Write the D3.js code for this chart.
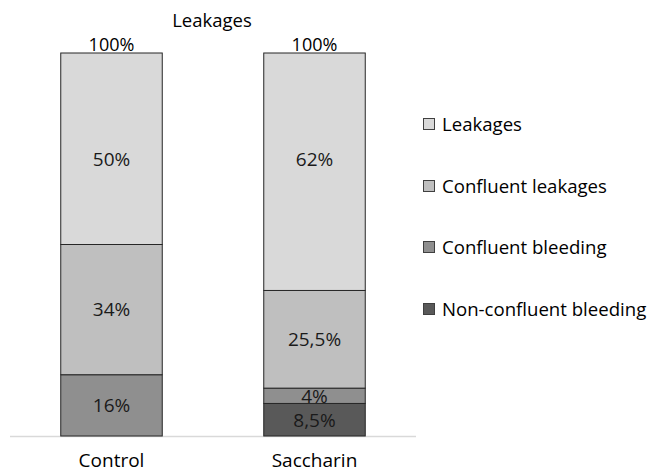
<!DOCTYPE html>
<html>
<head>
<meta charset="utf-8">
<script src="https://cdn.jsdelivr.net/npm/d3@7"></script>
<style>
  body { margin: 0; background: #fff; }
  text { font-family: "Open Sans", sans-serif; fill: #000; }
</style>
</head>
<body>
<div class="chart"></div>
<script>
// Data
const groups = ["Control", "Saccharin"];
const seriesNames = ["Non-confluent bleeding", "Confluent bleeding", "Confluent leakages", "Leakages"];
const nonConfluentBleeding = [0, 8.5];
const confluentBleeding = [16, 4];
const confluentLeakages = [34, 25.5];
const leakages = [50, 62];
const seriesColors = ["#595959", "#8f8f8f", "#bfbfbf", "#d9d9d9"];

const width = 650;
const height = 472;

const svg = d3.select(".chart")
    .append("svg")
    .attr("width", width)
    .attr("height", height);

// build rows for stacking
const rows = groups.map((g, i) => ({
    group: g,
    "Non-confluent bleeding": nonConfluentBleeding[i],
    "Confluent bleeding": confluentBleeding[i],
    "Confluent leakages": confluentLeakages[i],
    "Leakages": leakages[i]
}));

const stacked = d3.stack().keys(seriesNames)(rows);

const x = d3.scaleBand()
    .domain(groups)
    .range([10, 416])
    .paddingInner(0.5)
    .paddingOuter(0.25);

const y = d3.scaleLinear()
    .domain([0, 100])
    .range([436, 53]);

const color = d3.scaleOrdinal().domain(seriesNames).range(seriesColors);
const fmt = v => String(v).replace(".", ",") + "%";

// Title
svg.append("text")
    .attr("x", 212)
    .attr("y", 27)
    .attr("text-anchor", "middle")
    .style("font-size", "18.5px")
    .text("Leakages");

// baseline
svg.append("line")
    .attr("x1", x.range()[0])
    .attr("x2", x.range()[1])
    .attr("y1", y(0) + 0.5)
    .attr("y2", y(0) + 0.5)
    .attr("stroke", "#d9d9d9")
    .attr("stroke-width", 1.5);

// Bars
const layers = svg.append("g")
    .selectAll("g")
    .data(stacked)
    .join("g")
    .attr("fill", d => color(d.key));

layers.selectAll("rect")
    .data(d => d.filter(s => s[1] - s[0] > 0))
    .join("rect")
    .attr("x", d => x(d.data.group))
    .attr("y", d => y(d[1]))
    .attr("width", x.bandwidth())
    .attr("height", d => y(d[0]) - y(d[1]))
    .attr("stroke", "#262626")
    .attr("stroke-width", 1);

// Segment labels (top segment labels sit a little lower in the reference)
layers.selectAll("text")
    .data(d => d.filter(s => s[1] - s[0] > 0).map(s => Object.assign(s, { key: d.key })))
    .join("text")
    .attr("x", d => x(d.data.group) + x.bandwidth() / 2)
    .attr("y", d => d.key === "Leakages" ? y(d[1]) + 106 : (y(d[0]) + y(d[1])) / 2)
    .attr("dy", "0.36em")
    .attr("text-anchor", "middle")
    .style("font-size", "19px")
    .style("fill", "#1a1a1a")
    .text(d => fmt(d[1] - d[0]));

// Totals above bars
svg.append("g")
    .selectAll("text")
    .data(rows)
    .join("text")
    .attr("x", d => x(d.group) + x.bandwidth() / 2)
    .attr("y", d => y(d3.sum(seriesNames, k => d[k])) - 2)
    .attr("text-anchor", "middle")
    .style("font-size", "18px")
    .text(d => fmt(d3.sum(seriesNames, k => d[k])));

// Category axis labels
svg.append("g")
    .selectAll("text")
    .data(groups)
    .join("text")
    .attr("x", d => x(d) + x.bandwidth() / 2)
    .attr("y", 467)
    .attr("text-anchor", "middle")
    .style("font-size", "19px")
    .text(d => d);

// Legend
const legendY = [124, 186, 247, 309];
const legend = svg.append("g")
    .selectAll("g")
    .data(seriesNames.slice().reverse())
    .join("g")
    .attr("transform", (d, i) => `translate(423,${legendY[i]})`);

legend.append("rect")
    .attr("x", 0.5)
    .attr("y", -5.5)
    .attr("width", 11)
    .attr("height", 11)
    .attr("fill", d => color(d))
    .attr("stroke", "#404040");

legend.append("text")
    .attr("x", 19)
    .attr("y", 0)
    .attr("dy", "0.36em")
    .style("font-size", "18.6px")
    .text(d => d);
</script>
</body>
</html>
